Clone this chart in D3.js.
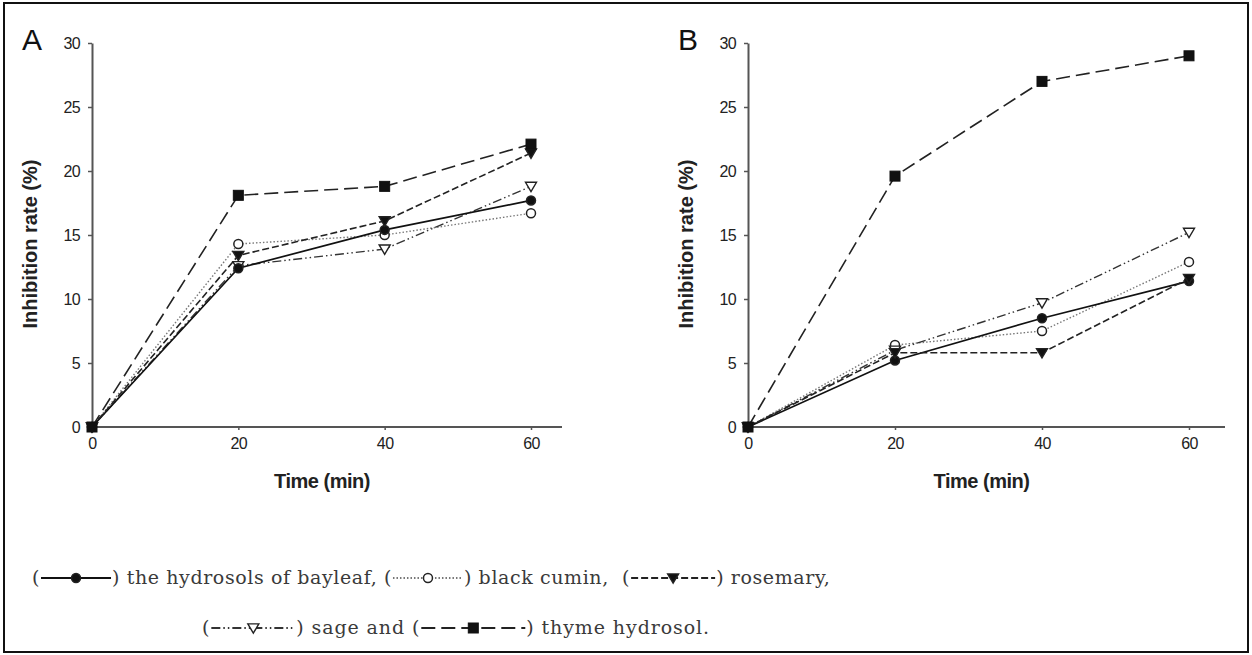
<!DOCTYPE html>
<html>
<head>
<meta charset="utf-8">
<script src="https://cdn.jsdelivr.net/npm/d3@7"></script>
<style>
  body { margin: 0; background: #fff; }
  svg { display: block; }
</style>
</head>
<body>
<div id="chart"></div>
<script>
// time points (min) and tick labels
const times = [0, 20, 40, 60];
const yTicks = [0, 5, 10, 15, 20, 25, 30];

// panel A
const bayleafA = [0, 12.4, 15.4, 17.7];
const cuminA = [0, 14.3, 15.0, 16.7];
const rosemaryA = [0, 13.4, 16.1, 21.4];
const sageA = [0, 12.6, 13.9, 18.8];
const thymeA = [0, 18.1, 18.8, 22.1];

// panel B
const bayleafB = [0, 5.2, 8.5, 11.4];
const cuminB = [0, 6.4, 7.5, 12.9];
const rosemaryB = [0, 5.8, 5.8, 11.6];
const sageB = [0, 6.0, 9.7, 15.2];
const thymeB = [0, 19.6, 27.0, 29.0];

const W = 1252, H = 655;
const svg = d3.select("#chart").append("svg")
  .attr("width", W).attr("height", H);

// outer frame
svg.append("rect")
  .attr("x", 4).attr("y", 3).attr("width", W - 8).attr("height", H - 6)
  .attr("fill", "none").attr("stroke", "#111").attr("stroke-width", 2);

const tickFont = "'Liberation Sans Narrow', 'Liberation Sans', Arial, sans-serif";

// line styles per series
const styles = {
  bayleaf:  { dash: null,             color: "#111", width: 1.7, marker: "circle",   fill: "#111" },
  cumin:    { dash: "1.5,2",          color: "#777", width: 1.4, marker: "circle",   fill: "#fff" },
  rosemary: { dash: "7,3",            color: "#222", width: 1.6, marker: "triangle", fill: "#111" },
  sage:     { dash: "9,3,1.5,3,1.5,3", color: "#333", width: 1.4, marker: "triangle", fill: "#fff" },
  thyme:    { dash: "14,6",           color: "#222", width: 1.6, marker: "square",   fill: "#111" }
};

function drawMarker(g, type, fill, x, y) {
  if (type === "circle") {
    g.append("circle").attr("cx", x).attr("cy", y).attr("r", 4.5)
      .attr("fill", fill).attr("stroke", "#222").attr("stroke-width", 1.5);
  } else if (type === "triangle") {
    const s = 5.5;
    g.append("path")
      .attr("d", `M${x - s},${y - s * 0.75} L${x + s},${y - s * 0.75} L${x},${y + s * 0.95} Z`)
      .attr("fill", fill).attr("stroke", "#222").attr("stroke-width", 1.4);
  } else {
    g.append("rect").attr("x", x - 5).attr("y", y - 5).attr("width", 10).attr("height", 10)
      .attr("fill", fill).attr("stroke", "#111").attr("stroke-width", 1);
  }
}

function drawPanel(label, x0, x1, xEnd, series) {
  const x = d3.scaleLinear().domain([0, 60]).range([x0, x1]);
  const y = d3.scaleLinear().domain([0, 30]).range([427, 43]);
  const g = svg.append("g");

  // y axis
  const yAxis = g.append("g")
    .attr("transform", `translate(${x0},0)`)
    .call(d3.axisLeft(y).tickValues(yTicks).tickSize(4).tickPadding(8).tickSizeOuter(0));
  yAxis.select(".domain").attr("stroke", "#555").attr("stroke-width", 2);
  yAxis.selectAll(".tick line").attr("stroke", "#555").attr("stroke-width", 1.5);
  yAxis.selectAll("text").attr("font-family", tickFont).attr("font-size", 16)
    .attr("letter-spacing", "-0.6px").attr("fill", "#222");

  // x axis
  const xAxis = g.append("g")
    .attr("transform", "translate(0,427)")
    .call(d3.axisBottom(x).tickValues(times).tickSize(3).tickPadding(8).tickSizeOuter(0));
  xAxis.select(".domain").attr("d", `M${x0},0H${xEnd}`).attr("stroke", "#555").attr("stroke-width", 2);
  xAxis.selectAll(".tick line").attr("stroke", "#555").attr("stroke-width", 1.5);
  xAxis.selectAll("text").attr("font-family", tickFont).attr("font-size", 16)
    .attr("letter-spacing", "-0.6px").attr("fill", "#222");

  // titles
  g.append("text")
    .attr("x", (x0 + xEnd) / 2 - 5).attr("y", 488)
    .attr("text-anchor", "middle")
    .attr("font-family", tickFont).attr("font-weight", "bold").attr("font-size", 20)
    .attr("letter-spacing", "-0.5px")
    .attr("fill", "#222")
    .text("Time (min)");
  g.append("text")
    .attr("transform", `translate(${x0 - 55},244) rotate(-90)`)
    .attr("text-anchor", "middle")
    .attr("font-family", tickFont).attr("font-weight", "bold").attr("font-size", 20)
    .attr("fill", "#222")
    .text("Inhibition rate (%)");
  g.append("text")
    .attr("x", x0 - 70).attr("y", 50)
    .attr("font-family", "'Liberation Sans', Arial, sans-serif").attr("font-size", 30)
    .attr("fill", "#111")
    .text(label);

  const line = d3.line().x((d, i) => x(times[i])).y(d => y(d));

  // draw lines first, markers on top
  series.forEach(s => {
    const st = styles[s.key];
    g.append("path").datum(s.values)
      .attr("d", line)
      .attr("fill", "none")
      .attr("stroke", st.color)
      .attr("stroke-width", st.width)
      .attr("stroke-dasharray", st.dash);
  });
  series.forEach(s => {
    const st = styles[s.key];
    s.values.forEach((v, i) => drawMarker(g, st.marker, st.fill, x(times[i]), y(v)));
  });
}

drawPanel("A", 92, 531, 562, [
  { key: "cumin", values: cuminA },
  { key: "sage", values: sageA },
  { key: "bayleaf", values: bayleafA },
  { key: "rosemary", values: rosemaryA },
  { key: "thyme", values: thymeA }
]);

drawPanel("B", 748, 1189, 1225, [
  { key: "cumin", values: cuminB },
  { key: "sage", values: sageB },
  { key: "bayleaf", values: bayleafB },
  { key: "rosemary", values: rosemaryB },
  { key: "thyme", values: thymeB }
]);

// legend as a sentence with inline line samples
const legendFont = "'DejaVu Serif', 'Liberation Serif', serif";
function legendRow(xStart, yBase, spacing, parts) {
  let cx = xStart;
  const g = svg.append("g");
  parts.forEach(p => {
    if (typeof p === "string") {
      const t = g.append("text")
        .attr("x", cx).attr("y", yBase)
        .attr("font-family", legendFont).attr("font-size", 19)
        .attr("letter-spacing", spacing + "px")
        .attr("fill", "#3a3a3a")
        .style("white-space", "pre")
        .text(p);
      cx += t.node().getComputedTextLength();
    } else {
      const st = styles[p.key];
      const ly = yBase - 6;
      g.append("line")
        .attr("x1", cx + 1).attr("x2", cx + p.w - 1)
        .attr("y1", ly).attr("y2", ly)
        .attr("stroke", st.color).attr("stroke-width", 2)
        .attr("stroke-dasharray", st.dash);
      drawMarker(g, st.marker, st.fill, cx + p.w / 2, ly);
      cx += p.w;
    }
  });
}

legendRow(32, 584, 0.6, [
  "(", { key: "bayleaf", w: 72 }, ") the hydrosols of bayleaf, (",
  { key: "cumin", w: 72 }, ") black cumin,  (",
  { key: "rosemary", w: 86 }, ") rosemary,"
]);
legendRow(202, 634, 0.9, [
  "(", { key: "sage", w: 86 }, ") sage and (",
  { key: "thyme", w: 106 }, ") thyme hydrosol."
]);
</script>
</body>
</html>
